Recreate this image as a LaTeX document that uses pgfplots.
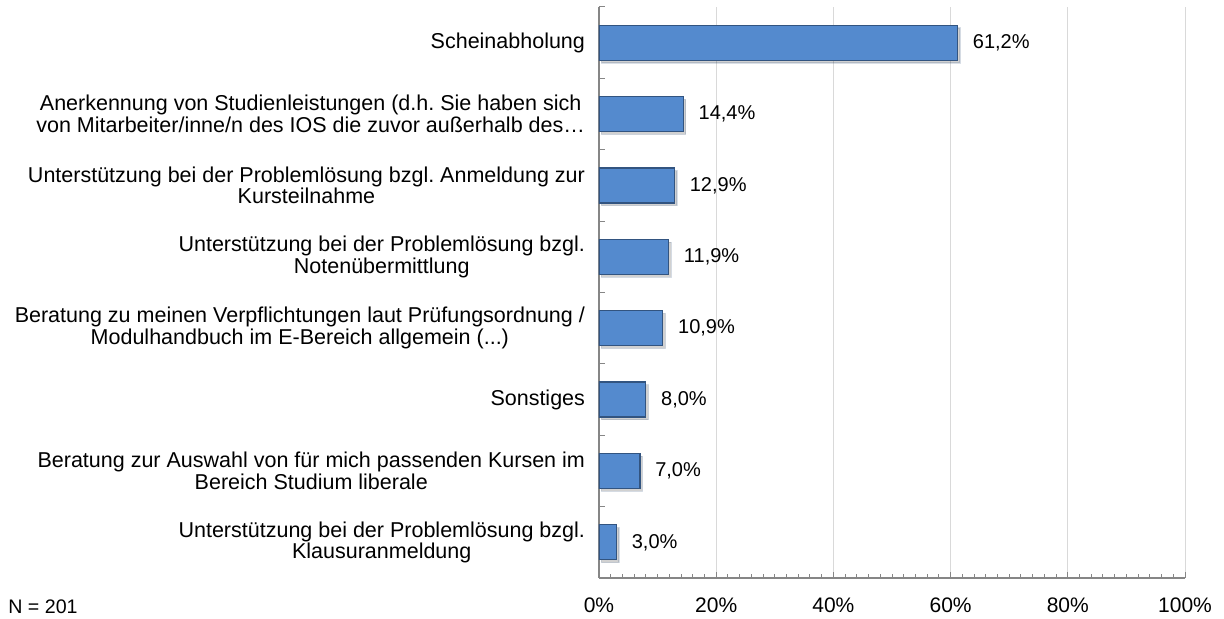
\documentclass[border=0pt]{standalone}
\usepackage{pgfplots}
\pgfplotsset{compat=1.18}
\usetikzlibrary{shadows}
\usepackage{fontspec}
\setmainfont{Liberation Sans}
\frenchspacing
\definecolor{barfill}{RGB}{84,138,206}
\definecolor{baredge}{RGB}{50,84,128}
\definecolor{gridgray}{RGB}{217,217,217}
\definecolor{axisgray}{RGB}{134,134,134}
\begin{document}
\begin{tikzpicture}
\useasboundingbox (-299.5pt,-20.5pt) rectangle (312.5pt,289pt);
\begin{axis}[
  at={(0pt,0pt)}, anchor=south west,
  scale only axis, width=293pt, height=285.5pt,
  xbar, bar width=17.5pt,
  xmin=0, xmax=100, ymin=-0.5, ymax=7.5,
  axis x line*=bottom, axis y line*=left,
  axis line style={axisgray, line width=0.6pt, -},
  tick align=inside,
  xtick={0,20,40,60,80,100}, minor x tick num=9,
  major tick length=3pt, minor tick length=2pt,
  tick style={axisgray, line width=0.5pt},
  xmajorgrids, grid style={gridgray, line width=0.5pt},
  xticklabel={\pgfmathprintnumber[assume math mode=true]{\tick}\%},
  xticklabel style={font=\fontsize{10.5}{12}\selectfont, yshift=-6.5pt},
  ytick={-0.5,0.5,1.5,2.5,3.5,4.5,5.5,6.5,7.5}, yticklabels={},
  extra y ticks={0,1,2,3,4,5,6,7},
  extra y tick labels={
    {Unterstützung bei der Problemlösung bzgl.\\Klausuranmeldung},
    {Beratung zur Auswahl von für mich passenden Kursen im\\Bereich Studium liberale},
    {Sonstiges},
    {Beratung zu meinen Verpflichtungen laut Prüfungsordnung /\\Modulhandbuch im E-Bereich allgemein (.{}.{}.)},
    {Unterstützung bei der Problemlösung bzgl.\\Notenübermittlung},
    {Unterstützung bei der Problemlösung bzgl. Anmeldung zur\\Kursteilnahme},
    {Anerkennung von Studienleistungen (d.h. Sie haben sich\\von Mitarbeiter/inne/n des IOS die zuvor außerhalb des…},
    {Scheinabholung}},
  extra y tick style={tick style={draw=none}, grid=none,
    yticklabel style={align=center, font=\fontsize{10.75}{10.8}\selectfont, xshift=-3.5pt}},
  nodes near coords={\pgfmathprintnumber[fixed,fixed zerofill,precision=1,use comma,assume math mode=true]{\pgfplotspointmeta}\%},
  nodes near coords style={anchor=west, font=\fontsize{10}{11}\selectfont, xshift=4pt, text=black},
]
\addplot[xbar, draw=baredge, line width=0.6pt, fill=barfill,
  drop shadow={shadow xshift=1.2pt, shadow yshift=-1.4pt, opacity=0.18, fill=black}]
  coordinates {(3.0,0) (7.0,1) (8.0,2) (10.9,3) (11.9,4) (12.9,5) (14.4,6) (61.2,7)};
\end{axis}
\node[anchor=west, inner sep=0pt, font=\fontsize{9.8}{12}\selectfont] at (-295.5pt,-14.5pt) {N = 201};
\end{tikzpicture}
\end{document}
